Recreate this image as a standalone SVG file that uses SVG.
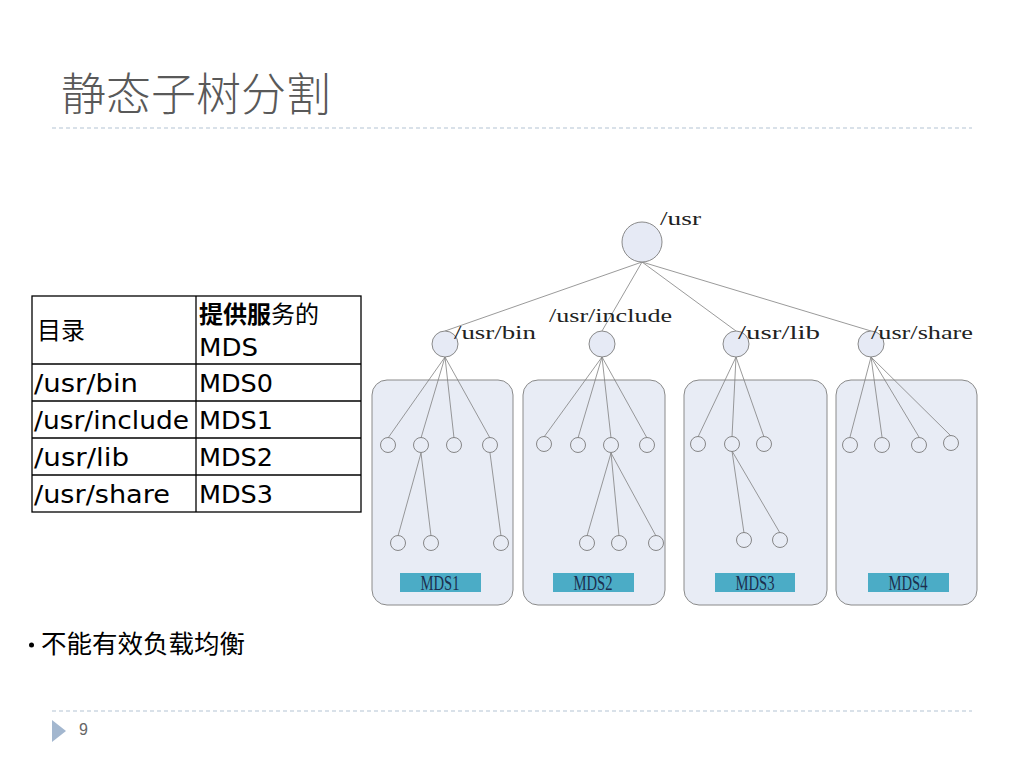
<svg xmlns="http://www.w3.org/2000/svg" width="1024" height="768" viewBox="0 0 1024 768">
<style>
.title{font-family:"Noto Sans CJK SC","Liberation Sans",sans-serif;font-size:45px;font-weight:300;fill:#595959}
.sep{stroke:#b4c3d4;stroke-width:1.2;stroke-dasharray:4 3;fill:none}
.cell{font-family:"DejaVu Sans","Noto Sans CJK SC",sans-serif;font-size:24px;fill:#000}
.grid{stroke:#000;stroke-width:1.3;fill:none}
.lbl{font-family:"Liberation Serif",serif;font-size:19px;fill:#222}
.box{fill:#e8ecf5;stroke:#8a8a8a;stroke-width:1}
.big{fill:#e6eaf5;stroke:#8a8a8a;stroke-width:1}
.sm{fill:#e8ecf5;stroke:#7a7a7a;stroke-width:0.9}
.edge{stroke:#808080;stroke-width:0.8;fill:none}
.tag{fill:#4bacc6}
.tagt{font-family:"Liberation Serif",serif;font-size:21px;fill:#1b2f4e}
.body{font-family:"Noto Sans CJK SC",sans-serif;font-size:25.5px;fill:#000}
</style>
<rect width="1024" height="768" fill="#fff"/>
<text class="title" x="61" y="111">静态子树分割</text>
<line class="sep" x1="52" y1="128" x2="972" y2="128"/>
<line class="sep" x1="52" y1="711" x2="972" y2="711"/>
<polygon points="52,720 66,731 52,742" fill="#a3b7cf"/>
<text x="79" y="735" font-family="Liberation Sans, sans-serif" font-size="16" fill="#666">9</text>

<g id="table">
<rect class="grid" x="32" y="296" width="329" height="216"/>
<line class="grid" x1="196" y1="296" x2="196" y2="512"/>
<line class="grid" x1="32" y1="364" x2="361" y2="364"/>
<line class="grid" x1="32" y1="401" x2="361" y2="401"/>
<line class="grid" x1="32" y1="438" x2="361" y2="438"/>
<line class="grid" x1="32" y1="475" x2="361" y2="475"/>
<text class="cell" x="37" y="339">目录</text>
<text class="cell" x="199" y="323"><tspan font-weight="bold">提供服</tspan>务的</text>
<text class="cell" x="199" y="356" textLength="59" lengthAdjust="spacingAndGlyphs">MDS</text>
<text class="cell" x="34" y="392" textLength="104" lengthAdjust="spacingAndGlyphs">/usr/bin</text>
<text class="cell" x="34" y="429" textLength="155" lengthAdjust="spacingAndGlyphs">/usr/include</text>
<text class="cell" x="34" y="466" textLength="95" lengthAdjust="spacingAndGlyphs">/usr/lib</text>
<text class="cell" x="34" y="503" textLength="136" lengthAdjust="spacingAndGlyphs">/usr/share</text>
<text class="cell" x="199" y="392" textLength="74" lengthAdjust="spacingAndGlyphs">MDS0</text>
<text class="cell" x="199" y="429" textLength="74" lengthAdjust="spacingAndGlyphs">MDS1</text>
<text class="cell" x="199" y="466" textLength="74" lengthAdjust="spacingAndGlyphs">MDS2</text>
<text class="cell" x="199" y="503" textLength="74" lengthAdjust="spacingAndGlyphs">MDS3</text>
</g>

<g id="partitions">
<rect id="box-mds1" class="box" x="372" y="380" width="141" height="225" rx="15"/>
<rect id="box-mds2" class="box" x="523" y="380" width="142" height="225" rx="15"/>
<rect id="box-mds3" class="box" x="684" y="380" width="143" height="225" rx="15"/>
<rect id="box-mds4" class="box" x="836" y="380" width="141" height="225" rx="15"/>
</g>

<g id="connectors">
<line class="edge" x1="642" y1="262" x2="445" y2="331"/>
<line class="edge" x1="642" y1="262" x2="602" y2="331"/>
<line class="edge" x1="642" y1="262" x2="736" y2="331"/>
<line class="edge" x1="642" y1="262" x2="871" y2="331"/>
<line class="edge" x1="445" y1="357" x2="388" y2="438"/>
<line class="edge" x1="445" y1="357" x2="421" y2="438"/>
<line class="edge" x1="445" y1="357" x2="454" y2="438"/>
<line class="edge" x1="445" y1="357" x2="490" y2="438"/>
<line class="edge" x1="421" y1="453" x2="398" y2="536"/>
<line class="edge" x1="421" y1="453" x2="431" y2="536"/>
<line class="edge" x1="490" y1="453" x2="501" y2="536"/>
<line class="edge" x1="602" y1="357" x2="544" y2="437"/>
<line class="edge" x1="602" y1="357" x2="578" y2="438"/>
<line class="edge" x1="602" y1="357" x2="611" y2="438"/>
<line class="edge" x1="602" y1="357" x2="647" y2="438"/>
<line class="edge" x1="611" y1="453" x2="587" y2="536"/>
<line class="edge" x1="611" y1="453" x2="619" y2="536"/>
<line class="edge" x1="611" y1="453" x2="656" y2="536"/>
<line class="edge" x1="736" y1="357" x2="698" y2="437"/>
<line class="edge" x1="736" y1="357" x2="732" y2="437"/>
<line class="edge" x1="736" y1="357" x2="764" y2="437"/>
<line class="edge" x1="732" y1="451" x2="744" y2="533"/>
<line class="edge" x1="732" y1="451" x2="780" y2="533"/>
<line class="edge" x1="871" y1="357" x2="850" y2="437"/>
<line class="edge" x1="871" y1="357" x2="882" y2="437"/>
<line class="edge" x1="871" y1="357" x2="919" y2="437"/>
<line class="edge" x1="871" y1="357" x2="951" y2="436"/>
</g>

<g id="node-usr"><circle class="big" cx="642" cy="242" r="20"/><text class="lbl" x="660" y="225" textLength="41" lengthAdjust="spacingAndGlyphs">/usr</text></g>
<g id="node-usr-bin"><circle class="big" cx="445" cy="344" r="13"/><text class="lbl" x="454" y="339" textLength="82" lengthAdjust="spacingAndGlyphs">/usr/bin</text></g>
<g id="node-usr-include"><circle class="big" cx="602" cy="344" r="13"/><text class="lbl" x="549" y="322" textLength="123" lengthAdjust="spacingAndGlyphs">/usr/include</text></g>
<g id="node-usr-lib"><circle class="big" cx="736" cy="344" r="13"/><text class="lbl" x="738" y="339" textLength="82" lengthAdjust="spacingAndGlyphs">/usr/lib</text></g>
<g id="node-usr-share"><circle class="big" cx="871" cy="344" r="13"/><text class="lbl" x="871" y="339" textLength="102" lengthAdjust="spacingAndGlyphs">/usr/share</text></g>

<g id="leaves-mds1">
<circle class="sm" cx="388" cy="445" r="7.5"/>
<circle class="sm" cx="421" cy="445" r="7.5"/>
<circle class="sm" cx="454" cy="445" r="7.5"/>
<circle class="sm" cx="490" cy="445" r="7.5"/>
<circle class="sm" cx="398" cy="543" r="7.5"/>
<circle class="sm" cx="431" cy="543" r="7.5"/>
<circle class="sm" cx="501" cy="543" r="7.5"/>
</g>
<g id="leaves-mds2">
<circle class="sm" cx="544" cy="444" r="7.5"/>
<circle class="sm" cx="578" cy="445" r="7.5"/>
<circle class="sm" cx="611" cy="445" r="7.5"/>
<circle class="sm" cx="647" cy="445" r="7.5"/>
<circle class="sm" cx="587" cy="543" r="7.5"/>
<circle class="sm" cx="619" cy="543" r="7.5"/>
<circle class="sm" cx="656" cy="543" r="7.5"/>
</g>
<g id="leaves-mds3">
<circle class="sm" cx="698" cy="444" r="7.5"/>
<circle class="sm" cx="732" cy="444" r="7.5"/>
<circle class="sm" cx="764" cy="444" r="7.5"/>
<circle class="sm" cx="744" cy="540" r="7.5"/>
<circle class="sm" cx="780" cy="540" r="7.5"/>
</g>
<g id="leaves-mds4">
<circle class="sm" cx="850" cy="445" r="7.5"/>
<circle class="sm" cx="882" cy="445" r="7.5"/>
<circle class="sm" cx="919" cy="445" r="7.5"/>
<circle class="sm" cx="951" cy="443" r="7.5"/>
</g>

<g id="tag-mds1"><rect class="tag" x="400" y="573" width="81" height="19"/><text class="tagt" x="420.5" y="589.5" textLength="39" lengthAdjust="spacingAndGlyphs">MDS1</text></g>
<g id="tag-mds2"><rect class="tag" x="553" y="573" width="81" height="19"/><text class="tagt" x="573.5" y="589.5" textLength="39" lengthAdjust="spacingAndGlyphs">MDS2</text></g>
<g id="tag-mds3"><rect class="tag" x="715" y="573" width="80" height="19"/><text class="tagt" x="735.5" y="589.5" textLength="39" lengthAdjust="spacingAndGlyphs">MDS3</text></g>
<g id="tag-mds4"><rect class="tag" x="868" y="573" width="81" height="19"/><text class="tagt" x="888.5" y="589.5" textLength="39" lengthAdjust="spacingAndGlyphs">MDS4</text></g>

<g id="bullet">
<circle cx="31.5" cy="645" r="2.5" fill="#000"/>
<text class="body" x="41" y="653">不能有效负载均衡</text>
</g>
</svg>
